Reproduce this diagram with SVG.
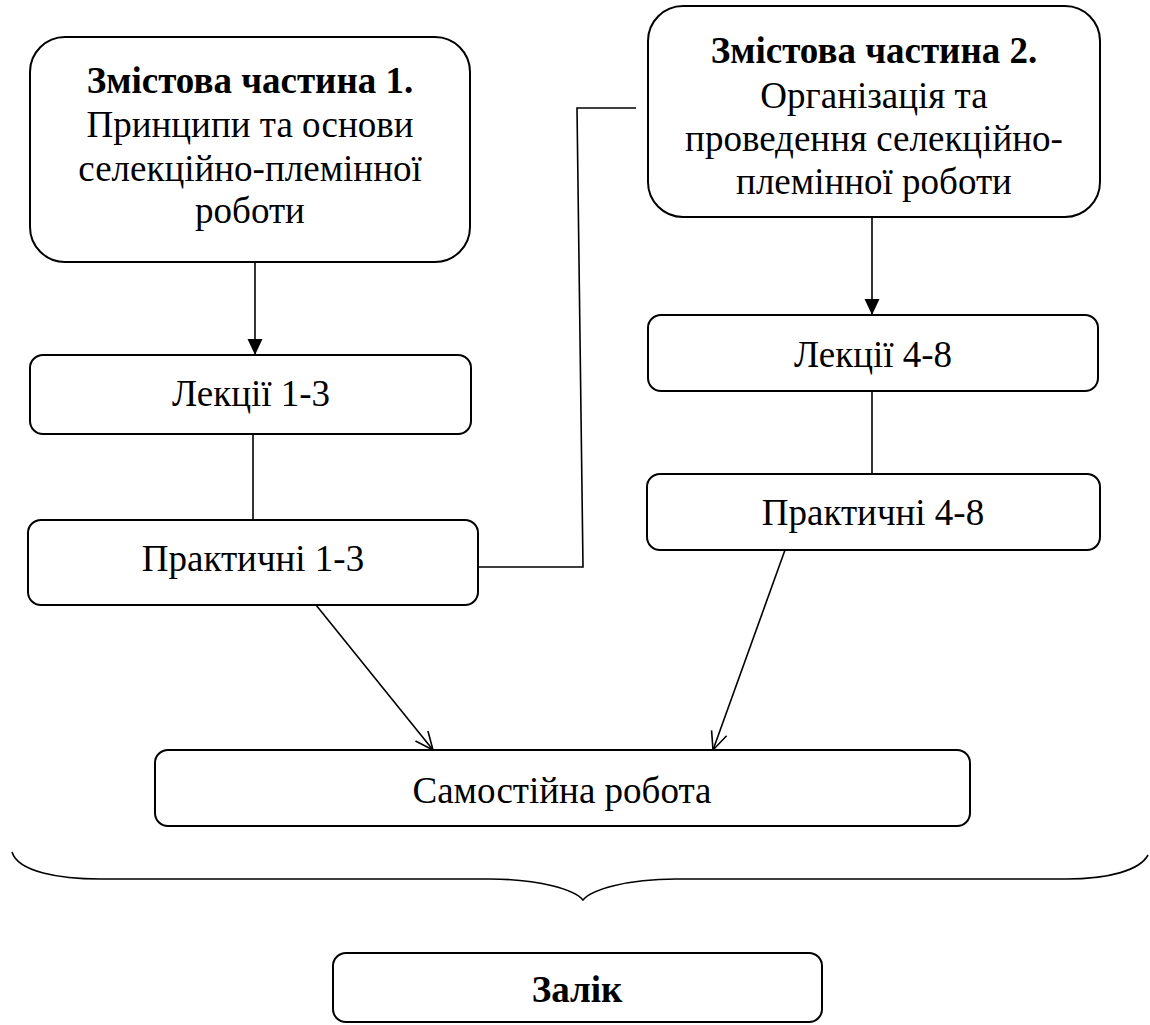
<svg xmlns="http://www.w3.org/2000/svg" width="1150" height="1025" viewBox="0 0 1150 1025">
<style>
.box{fill:#fff;stroke:#000;stroke-width:2}
.t{font-family:"Liberation Serif","Times New Roman",serif;font-size:37px;fill:#000;text-anchor:middle}
.b{font-weight:bold}
.c{fill:none;stroke:#000;stroke-width:1.6}
</style>
<defs>
<marker id="fb" viewBox="0 0 16 16" refX="16" refY="8" markerWidth="16" markerHeight="16" markerUnits="userSpaceOnUse" orient="auto">
<path d="M0,0.5 L16,8 L0,15.5 Z" fill="#000"/>
</marker>
<marker id="oa" viewBox="0 0 20 20" refX="19" refY="10" markerWidth="20" markerHeight="20" markerUnits="userSpaceOnUse" orient="auto">
<path d="M1,2 L19,10 L1,18" fill="none" stroke="#000" stroke-width="1.6"/>
</marker>
</defs>
<g id="connectors">
<line class="c" x1="255" y1="262" x2="255" y2="355" marker-end="url(#fb)"/>
<line class="c" x1="253" y1="434" x2="253" y2="520"/>
<polyline class="c" points="478,567 583,567 577,108 636,108"/>
<line class="c" x1="872" y1="217" x2="872" y2="315" marker-end="url(#fb)"/>
<line class="c" x1="872" y1="391" x2="872" y2="474"/>
<line class="c" x1="316" y1="605" x2="433" y2="750" marker-end="url(#oa)"/>
<line class="c" x1="785" y1="550" x2="713" y2="750" marker-end="url(#oa)"/>
<path class="c" stroke-width="2.2" d="M12,852 C18,872 60,879 100,879 L490,879 C540,879 575,890 583,900 C591,890 626,879 676,879 L1066,879 C1110,879 1140,870 1148,855"/>
</g>
<g id="part1">
<rect class="box" x="30" y="37" width="440" height="225" rx="35" ry="35"/>
<text class="t b" x="250" y="93">Змістова частина 1.</text>
<text class="t" x="250" y="137">Принципи та основи</text>
<text class="t" x="250" y="181">селекційно-племінної</text>
<text class="t" x="250" y="223">роботи</text>
</g>
<g id="part2">
<rect class="box" x="648" y="6" width="452" height="211" rx="35" ry="35"/>
<text class="t b" x="874" y="63">Змістова частина 2.</text>
<text class="t" x="874" y="108">Організація та</text>
<text class="t" x="874" y="151">проведення селекційно-</text>
<text class="t" x="874" y="194">племінної роботи</text>
</g>
<g id="lect1">
<rect class="box" x="30" y="355" width="441" height="79" rx="13" ry="13"/>
<text class="t" x="251" y="406">Лекції 1-3</text>
</g>
<g id="prac1">
<rect class="box" x="28" y="520" width="450" height="85" rx="13" ry="13"/>
<text class="t" x="253" y="571">Практичні 1-3</text>
</g>
<g id="lect2">
<rect class="box" x="648" y="315" width="450" height="76" rx="13" ry="13"/>
<text class="t" x="873" y="367">Лекції 4-8</text>
</g>
<g id="prac2">
<rect class="box" x="647" y="474" width="453" height="76" rx="13" ry="13"/>
<text class="t" x="873" y="525">Практичні 4-8</text>
</g>
<g id="self">
<rect class="box" x="155" y="750" width="815" height="76" rx="13" ry="13"/>
<text class="t" x="562" y="803">Самостійна робота</text>
</g>
<g id="exam">
<rect class="box" x="333" y="953" width="489" height="69" rx="13" ry="13"/>
<text class="t b" x="577" y="1002">Залік</text>
</g>
</svg>
